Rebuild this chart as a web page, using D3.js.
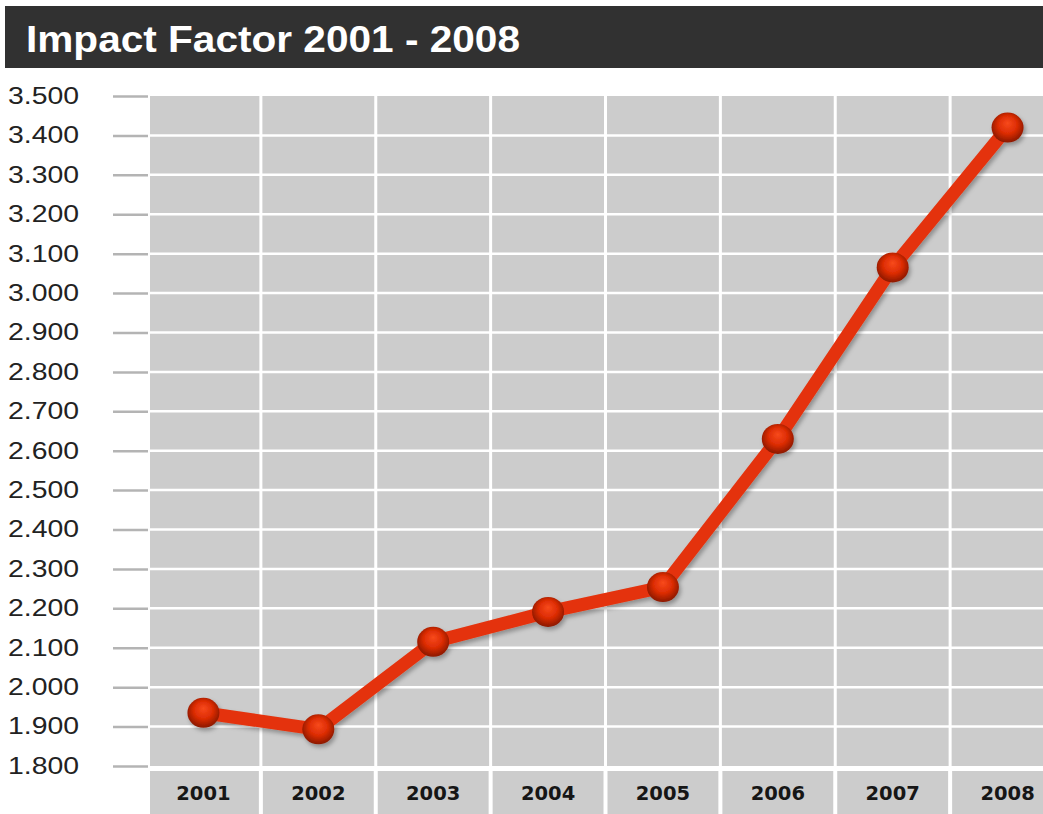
<!DOCTYPE html>
<html>
<head>
<meta charset="utf-8">
<title>Impact Factor 2001 - 2008</title>
<script src="https://cdn.jsdelivr.net/npm/d3@7"></script>
<style>
	html, body { margin: 0; padding: 0; background: #fff; }
	svg { display: block; }
</style>
</head>
<body>
<div id="chart"></div>
<script>
/* global d3 */
'use strict';

var years = ['2001', '2002', '2003', '2004', '2005', '2006', '2007', '2008'];
var impact = [1.935, 1.893, 2.115, 2.191, 2.254, 2.630, 3.065, 3.420];
var yTicks = [1.8, 1.9, 2.0, 2.1, 2.2, 2.3, 2.4, 2.5, 2.6, 2.7, 2.8, 2.9, 3.0, 3.1, 3.2, 3.3, 3.4, 3.5];
var title = 'Impact Factor 2001 - 2008';

var width = 1043,
	height = 814,
	plotLeft = 150,
	plotTop = 96,
	plotBottom = 766;

var svg = d3.select('#chart')
	.append('svg')
	.attr('width', width)
	.attr('height', height);

var defs = svg.append('defs');

var grad = defs.append('radialGradient')
	.attr('id', 'ball')
	.attr('cx', '50%').attr('cy', '45%').attr('r', '55%')
	.attr('fx', '50%').attr('fy', '35%');
grad.append('stop').attr('offset', '0%').attr('stop-color', '#f84a1c');
grad.append('stop').attr('offset', '55%').attr('stop-color', '#dc2c04');
grad.append('stop').attr('offset', '100%').attr('stop-color', '#8a1802');

var shadow = defs.append('filter')
	.attr('id', 'shadow')
	.attr('x', '-20%').attr('y', '-20%')
	.attr('width', '140%').attr('height', '140%');
shadow.append('feDropShadow')
	.attr('dx', 2).attr('dy', 3)
	.attr('stdDeviation', 2)
	.attr('flood-color', '#000')
	.attr('flood-opacity', 0.3);

// title bar
svg.append('rect')
	.attr('x', 5).attr('y', 6)
	.attr('width', width - 5).attr('height', 62)
	.attr('fill', '#313131');
svg.append('text')
	.attr('x', 26).attr('y', 52)
	.attr('font-family', 'Liberation Sans, Arial, sans-serif')
	.attr('font-weight', 'bold')
	.attr('font-size', 37)
	.attr('fill', '#fff')
	.attr('textLength', 494)
	.attr('lengthAdjust', 'spacingAndGlyphs')
	.text(title);

var x = d3.scaleBand()
	.domain(years)
	.range([146, 1065]);

var y = d3.scaleLinear()
	.domain([1.8, 3.5])
	.range([plotBottom, plotTop]);

// plot background
svg.append('rect')
	.attr('x', plotLeft).attr('y', plotTop)
	.attr('width', width - plotLeft).attr('height', plotBottom - plotTop)
	.attr('fill', '#cccccc');

// horizontal grid
svg.append('g')
	.selectAll('line')
	.data(yTicks.slice(1, -1))
	.enter().append('line')
	.attr('x1', plotLeft).attr('x2', width)
	.attr('y1', function(d){ return y(d); })
	.attr('y2', function(d){ return y(d); })
	.attr('stroke', '#fff')
	.attr('stroke-width', 2.5);

// vertical grid
svg.append('g')
	.selectAll('line')
	.data(years.slice(1))
	.enter().append('line')
	.attr('x1', function(d){ return x(d); })
	.attr('x2', function(d){ return x(d); })
	.attr('y1', plotTop).attr('y2', plotBottom)
	.attr('stroke', '#fff')
	.attr('stroke-width', 3);

// x label cells
svg.append('g')
	.selectAll('rect')
	.data(years)
	.enter().append('rect')
	.attr('x', function(d, i){ return i === 0 ? plotLeft : x(d) + 2; })
	.attr('y', 771)
	.attr('width', function(d, i){ return i === 0 ? x(d) + x.bandwidth() - 2 - plotLeft : x.bandwidth() - 4; })
	.attr('height', height - 771)
	.attr('fill', '#cccccc');

var xAxis = svg.append('g')
	.attr('transform', 'translate(0,' + 793 + ')')
	.call(d3.axisBottom(x).tickSize(0).tickPadding(0));
xAxis.select('.domain').remove();
xAxis.selectAll('text')
	.attr('dy', '0.35em')
	.attr('font-family', 'DejaVu Sans, Verdana, sans-serif')
	.attr('font-weight', 'bold')
	.attr('font-size', 19.5)
	.attr('fill', '#161616');

// y axis
var yAxis = svg.append('g')
	.attr('transform', 'translate(148,0)')
	.call(d3.axisLeft(y)
		.tickValues(yTicks)
		.tickFormat(d3.format('.3f'))
		.tickSizeInner(35)
		.tickSizeOuter(0)
		.tickPadding(34));
yAxis.select('.domain').remove();
yAxis.selectAll('.tick line')
	.attr('stroke', '#b4b4b4')
	.attr('stroke-width', 2.5);
yAxis.selectAll('.tick text')
	.attr('font-family', 'Liberation Sans, Arial, sans-serif')
	.attr('font-size', 23)
	.attr('fill', '#222')
	.attr('textLength', 71)
	.attr('lengthAdjust', 'spacingAndGlyphs');

// line
var line = d3.line()
	.x(function(d, i){ return x(years[i]) + x.bandwidth() / 2; })
	.y(function(d){ return y(d); });

var series = svg.append('g')
	.attr('filter', 'url(#shadow)');

series.append('path')
	.datum(impact)
	.attr('d', line)
	.attr('fill', 'none')
	.attr('stroke', '#e4310a')
	.attr('stroke-width', 13)
	.attr('stroke-linejoin', 'round');

series.selectAll('ellipse')
	.data(impact)
	.enter().append('ellipse')
	.attr('cx', function(d, i){ return x(years[i]) + x.bandwidth() / 2; })
	.attr('cy', function(d){ return y(d); })
	.attr('rx', 16)
	.attr('ry', 15)
	.attr('fill', 'url(#ball)');
</script>
</body>
</html>
